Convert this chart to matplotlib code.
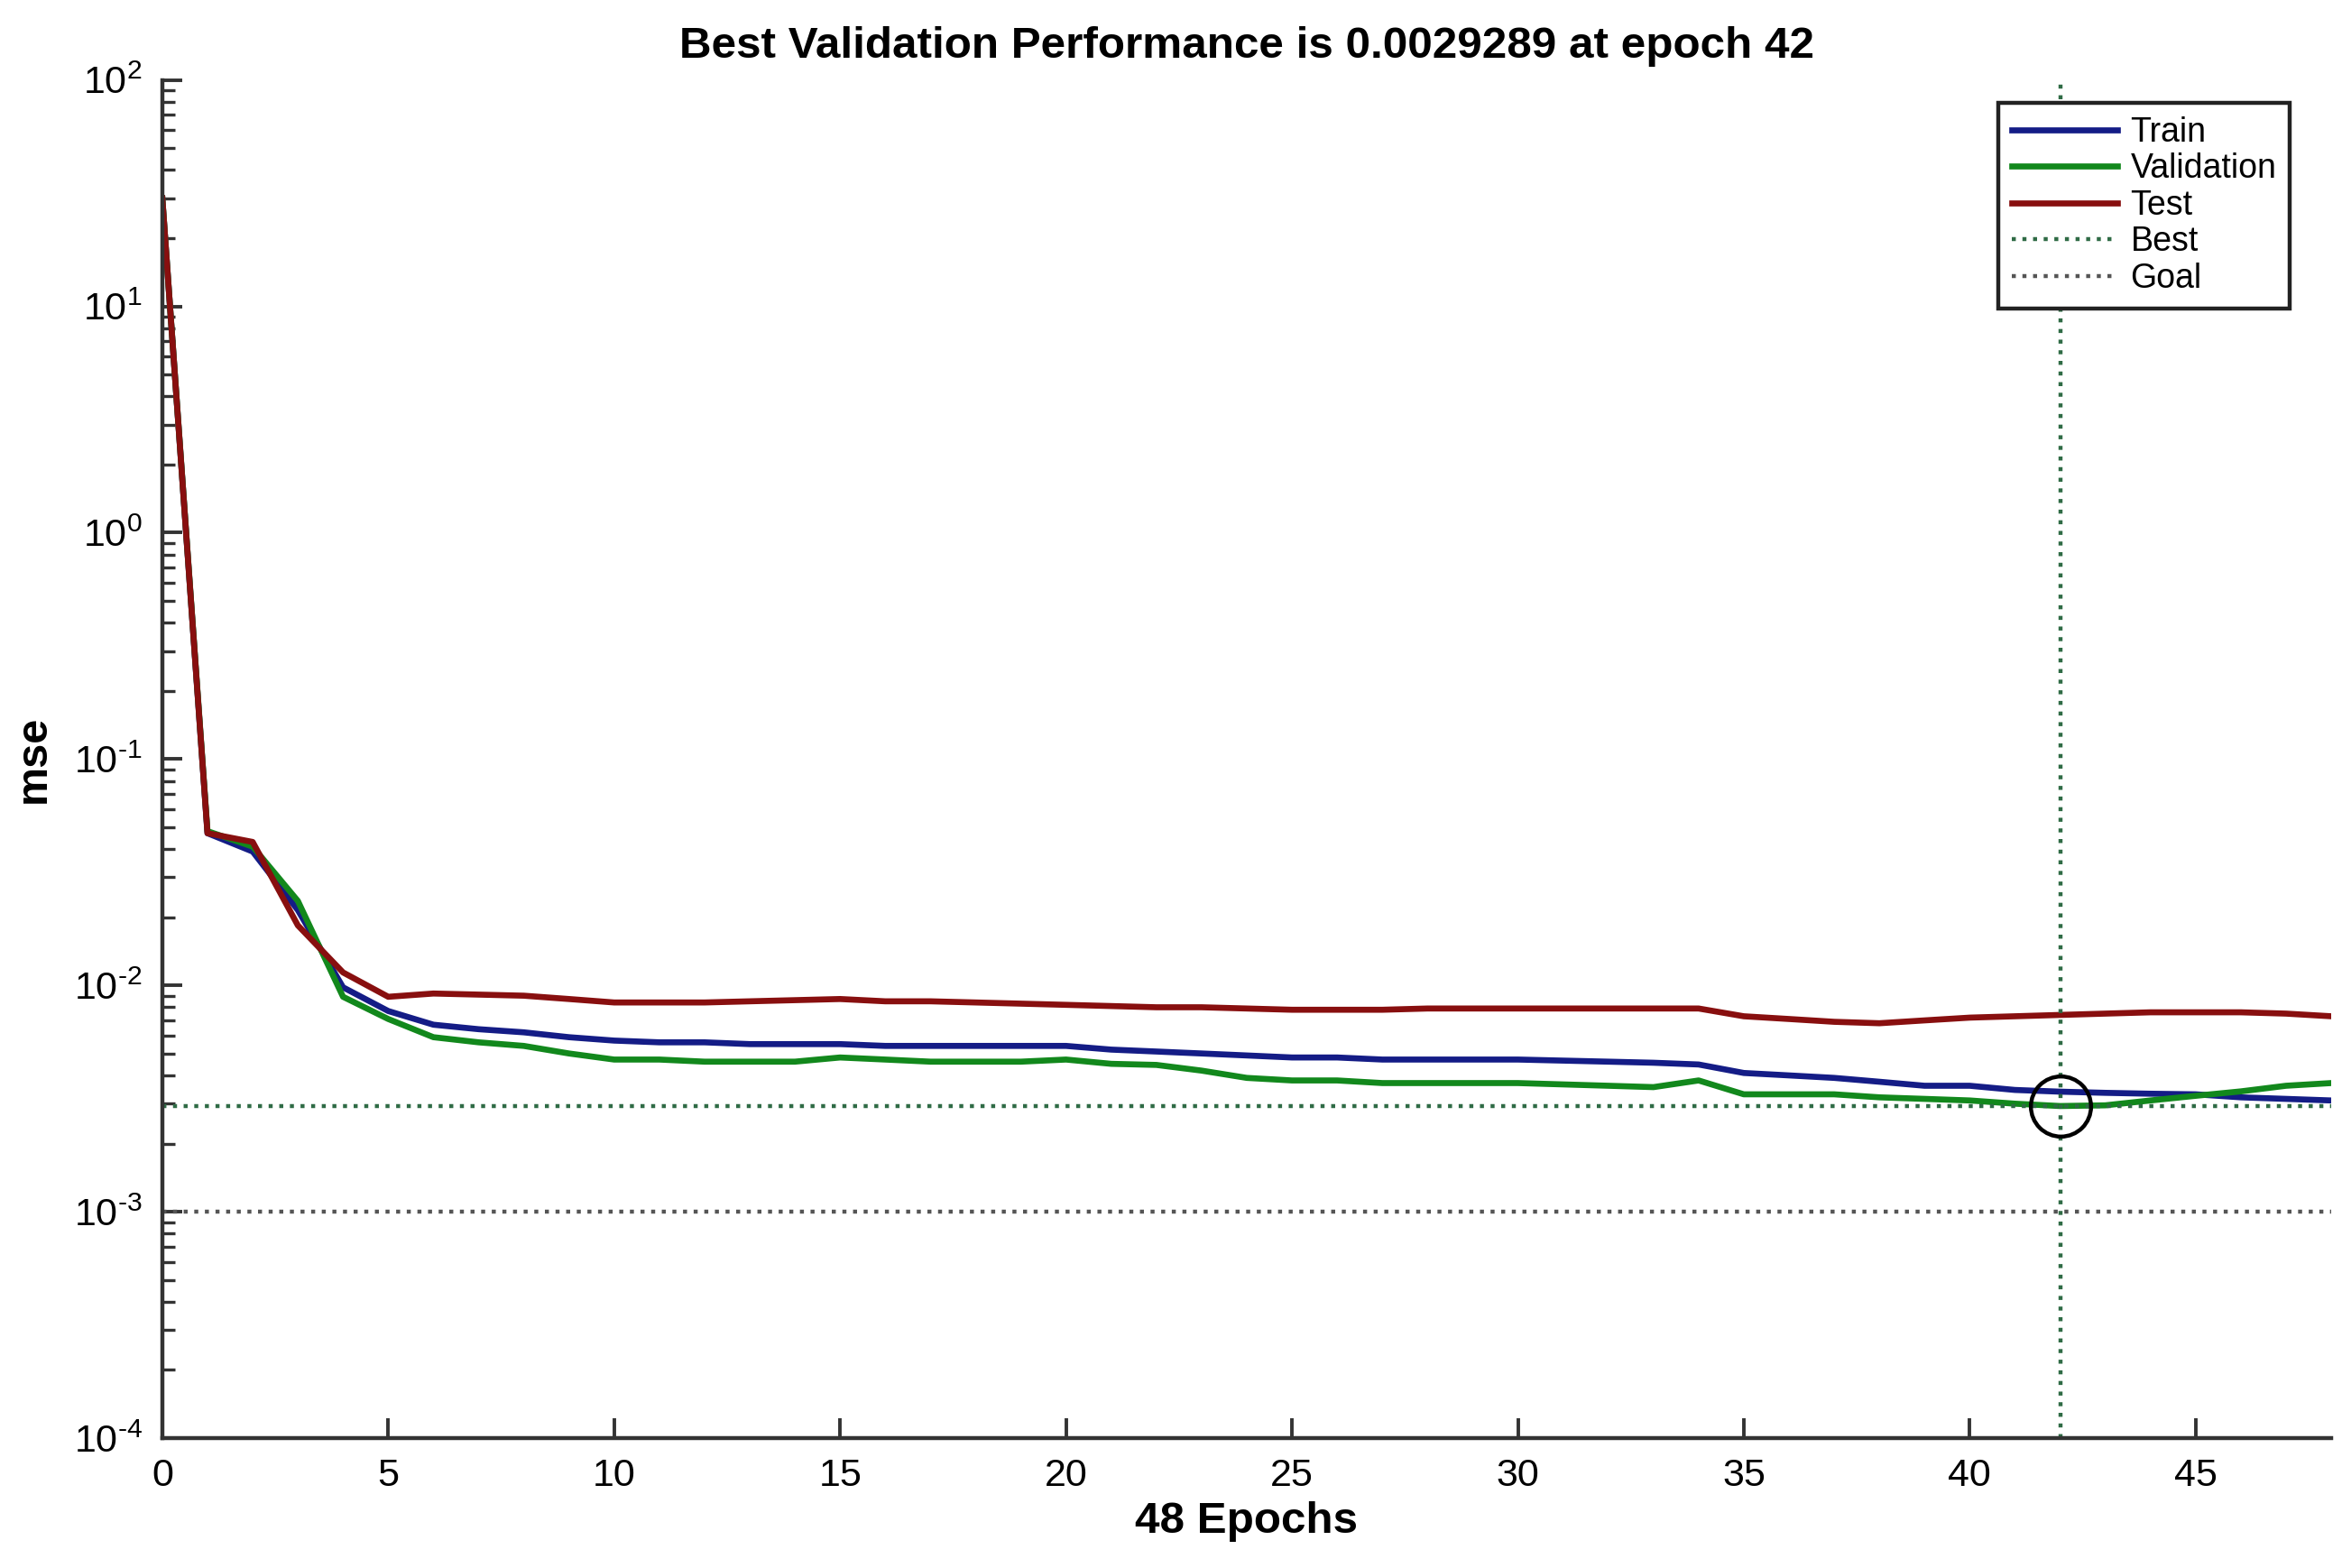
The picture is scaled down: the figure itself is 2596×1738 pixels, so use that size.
import matplotlib.pyplot as plt
import numpy as np
from matplotlib.ticker import LogLocator, FuncFormatter, FixedLocator

plt.rcParams['font.family'] = ['Liberation Sans', 'DejaVu Sans']
plt.rcParams['mathtext.fontset'] = 'custom'
plt.rcParams['mathtext.rm'] = 'Liberation Sans'
plt.rcParams['mathtext.it'] = 'Liberation Sans'

epochs = np.arange(0, 49)

train = [30, 0.047, 0.039, 0.0215, 0.0098, 0.0077, 0.0067, 0.0064, 0.0062, 0.0059,
         0.0057, 0.0056, 0.0056, 0.0055, 0.0055, 0.0055, 0.0054, 0.0054, 0.0054, 0.0054,
         0.0054, 0.0052, 0.0051, 0.0050, 0.0049, 0.0048, 0.0048, 0.0047, 0.0047, 0.0047,
         0.0047, 0.00465, 0.0046, 0.00455, 0.00447, 0.0041, 0.0040, 0.0039, 0.00375, 0.0036,
         0.0036, 0.00345, 0.00339, 0.00335, 0.00332, 0.0033, 0.0032, 0.00315, 0.0031]

validation = [30, 0.048, 0.041, 0.0236, 0.0089, 0.0071, 0.0059, 0.0056, 0.0054, 0.0050,
              0.0047, 0.0047, 0.0046, 0.0046, 0.0046, 0.0048, 0.0047, 0.0046, 0.0046, 0.0046,
              0.0047, 0.0045, 0.00445, 0.0042, 0.0039, 0.0038, 0.0038, 0.0037, 0.0037, 0.0037,
              0.0037, 0.00365, 0.0036, 0.00355, 0.0038, 0.0033, 0.0033, 0.0033, 0.0032, 0.00315,
              0.0031, 0.0030, 0.0029289, 0.00295, 0.0031, 0.00325, 0.0034, 0.0036, 0.0037]

test = [30, 0.047, 0.043, 0.0184, 0.0114, 0.0089, 0.0092, 0.0091, 0.0090, 0.0087,
        0.0084, 0.0084, 0.0084, 0.0085, 0.0086, 0.0087, 0.0085, 0.0085, 0.0084, 0.0083,
        0.0082, 0.0081, 0.0080, 0.0080, 0.0079, 0.0078, 0.0078, 0.0078, 0.0079, 0.0079,
        0.0079, 0.0079, 0.0079, 0.0079, 0.0079, 0.0073, 0.0071, 0.0069, 0.0068, 0.0070,
        0.0072, 0.0073, 0.0074, 0.0075, 0.0076, 0.0076, 0.0076, 0.0075, 0.0073]

best_epoch = 42
best_perf = 0.0029289
goal = 1e-3


def log_label(v, pos):
    n = int(round(np.log10(v)))
    if n < 0:
        return r'$10^{\text{-}%d}$' % (-n)
    return r'$10^{%d}$' % n


fig = plt.figure(figsize=(12.98, 8.69), dpi=200)
ax = fig.add_axes([0.0693, 0.0829, 0.9261, 0.8661])

ax.plot(epochs, train, color='#141c86', lw=2.4, label='Train')
ax.plot(epochs, validation, color='#12881c', lw=2.4, label='Validation')
ax.plot(epochs, test, color='#880f0f', lw=2.4, label='Test')
ax.axvline(best_epoch, color='#2f6b45', ls=':', lw=1.6, label='Best')
ax.axhline(best_perf, color='#2f6b45', ls=':', lw=1.6)
ax.axhline(goal, color='#555555', ls=':', lw=1.6, label='Goal')
ax.plot([best_epoch], [best_perf], 'o', ms=24, mfc='none', mec='black', mew=1.6)

ax.set_yscale('log')
ax.set_xlim(0, 48)
ax.set_ylim(1e-4, 1e2)

ax.yaxis.set_major_locator(LogLocator(base=10, numticks=10))
ax.yaxis.set_major_formatter(FuncFormatter(log_label))
ax.yaxis.set_minor_locator(LogLocator(base=10, subs=np.arange(2, 10), numticks=20))
ax.xaxis.set_major_locator(FixedLocator([0, 5, 10, 15, 20, 25, 30, 35, 40, 45]))

ax.spines['top'].set_visible(False)
ax.spines['right'].set_visible(False)
for s in ['left', 'bottom']:
    ax.spines[s].set_linewidth(1.6)
    ax.spines[s].set_color('#333333')

ax.tick_params(which='major', direction='in', length=8, width=1.4, color='#333333',
               labelsize=15.5, pad=8)
ax.tick_params(which='minor', direction='in', length=5, width=1.2, color='#333333')

ax.set_title('Best Validation Performance is 0.0029289 at epoch 42',
             fontsize=17.8, fontweight='bold', pad=9)
ax.set_xlabel('48 Epochs', fontsize=17.8, fontweight='bold', labelpad=3)
ax.set_ylabel('mse', fontsize=17.5, fontweight='bold', labelpad=8)

leg = ax.legend(loc='upper right', bbox_to_anchor=(0.981, 0.9834), fontsize=13.5,
                handlelength=3.1, labelspacing=0.12, fancybox=False, framealpha=1,
                borderpad=0.4, handletextpad=0.4, borderaxespad=0)
leg.get_frame().set_edgecolor('#222222')
leg.get_frame().set_linewidth(1.6)

plt.savefig('out.png', dpi=200)
